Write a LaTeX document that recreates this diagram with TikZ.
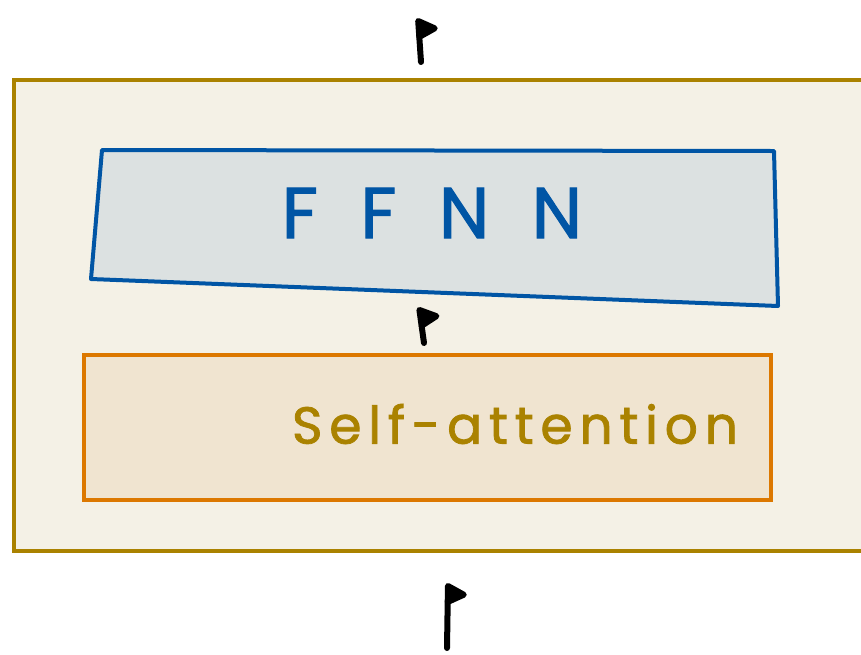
\documentclass[tikz,border=0pt]{standalone}
\usepackage{fontspec}
\setmainfont{Poppins}
\usetikzlibrary{arrows.meta,positioning}
\definecolor{goldline}{RGB}{170,130,0}
\definecolor{goldfill}{RGB}{244,241,230}
\definecolor{blueline}{RGB}{0,85,165}
\definecolor{bluefill}{RGB}{220,225,225}
\definecolor{orangeline}{RGB}{220,120,0}
\definecolor{orangefill}{RGB}{240,228,208}
\tikzstyle{flow} = [line width=4.5pt,line cap=round,line join=round,-{Kite[harpoon,swap,length=17pt,width=34pt,inset=8pt,round]}]

\begin{document}
\begin{tikzpicture}[x=0.75pt,y=0.75pt,yscale=-1,xscale=1]
\useasboundingbox (0,0) rectangle (861,654);
\clip (0,0) rectangle (861,654);

%Encoder block
\draw [color=goldline,fill=goldfill,line width=3.3pt] (14,80) rectangle (880,551) ;

%FFNN box
\draw [color=blueline,fill=bluefill,line width=3pt,line join=round] (102,150) -- (774,151) -- (778,306) -- (91,279) -- cycle ;
\node (ffnn) at (432,213) {};
% Text Node
\node [text=blueline,font=\fontsize{54}{54}\selectfont\addfontfeature{LetterSpace=32,FakeBold=1.5}] at (ffnn) {F F N N};

%Self-attention box
\draw [color=orangeline,fill=orangefill,line width=3pt] (84,355) rectangle (771,500) ;
\node (sa) at (515,424) {};
% Text Node
\node [text=goldline,font=\fontsize{39}{39}\selectfont\addfontfeature{LetterSpace=13,FakeBold=1.5}] at (sa) {Self-attention};

%Arrows
\coordinate (in) at (447,648);
\coordinate (inend) at (448,583);
\coordinate (mid) at (424,343);
\coordinate (midend) at (419,307);
\coordinate (out) at (421,62);
\coordinate (outend) at (418,18);
\draw [flow] (in) -- (inend) ;
\draw [flow] (mid) -- (midend) ;
\draw [flow] (out) -- (outend) ;

\end{tikzpicture}
\end{document}
